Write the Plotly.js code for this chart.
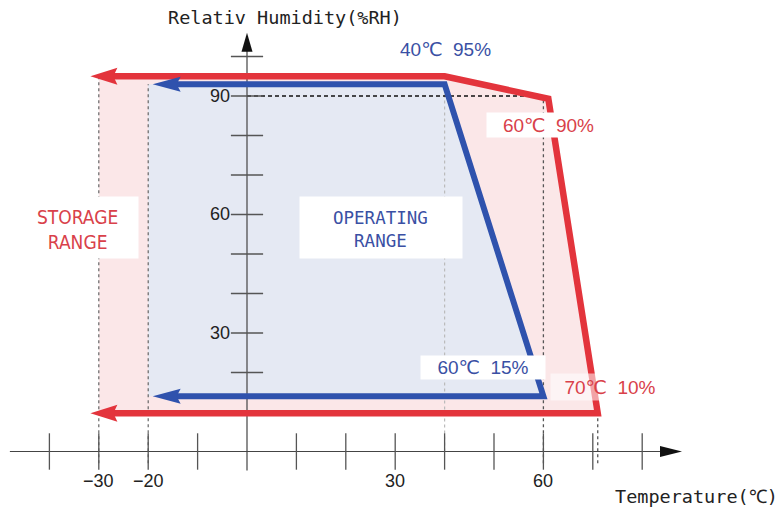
<!DOCTYPE html>
<html><head><meta charset="utf-8">
<script src="https://cdn.plot.ly/plotly-3.0.1.min.js"></script>
<style>html,body{margin:0;padding:0;background:#fff}#chart{width:778px;height:512px}</style>
</head><body><div id="chart"></div>
<script>
// ---------------- data ----------------
const storageTemp = [-30, 40, 61, 71, -30];
const storageRH   = [95, 95, 89.3, 9.7, 9.7];
const operatingTemp = [-20, 40, 60, -20];
const operatingRH   = [93, 93, 14, 14];
const storageArrowTip = -31.7;
const operatingArrowTip = -19.1;
const xTickVals = [-40, -30, -20, -10, 10, 20, 30, 40, 50, 60, 70, 80];
const yTickVals = [10, 20, 30, 40, 50, 60, 70, 80, 90, 100];
const xLabelVals = [-30, -20, 30, 60];
const xLabelText = ['\u221230', '\u221220', '30', '60'];
const yLabelVals = [30, 60, 90];
const yLabelText = ['30', '60', '90'];
const pointLabels = ['40℃  95%', '60℃  90%', '60℃  15%', '70℃  10%'];
const refRH = 90;

// ---------------- geometry helpers ----------------
const W = 778, H = 512;
const X0 = -50, X1 = 107.49, Y0 = -15.32, Y1 = 114.3;
const kx = (X1 - X0) / W, ky = (Y1 - Y0) / H;   // data units per pixel
const xAxisTip = 88.06, yAxisTip = 106, xAxisStart = -48, yAxisStart = -4.8;

const RED = '#e3343c', BLUE = '#2f52ad';
const RED_TXT = '#d9414a', BLUE_TXT = '#3a50a4';

function leftHead(tipX, y, len, half, notch) {
  const b = tipX + len * kx, n = tipX + (len - notch) * kx;
  return `M${tipX},${y} L${b},${y + half * ky} L${n},${y} L${b},${y - half * ky} Z`;
}
function rightHead(tipX, y, len, half) {
  const b = tipX - len * kx;
  return `M${tipX},${y} L${b},${y + half * ky} L${b},${y - half * ky} Z`;
}
function upHead(x, tipY, len, half) {
  const b = tipY - len * ky;
  return `M${x},${tipY} L${x + half * kx},${b} L${x - half * kx},${b} Z`;
}

// ---------------- traces ----------------
const traces = [];
traces.push({x: storageTemp, y: storageRH, mode: 'lines', fill: 'toself',
  fillcolor: '#fbe7e8', line: {width: 0}, hoverinfo: 'skip'});
traces.push({x: operatingTemp, y: operatingRH, mode: 'lines', fill: 'toself',
  fillcolor: '#e5e9f3', line: {width: 0}, hoverinfo: 'skip'});

const refBottom = -3;
traces.push({x: [storageTemp[0], storageTemp[0], null, operatingTemp[0], operatingTemp[0]],
  y: [refBottom, storageRH[0], null, refBottom, operatingRH[0]],
  mode: 'lines', line: {color: '#666', width: 1.2, dash: 'dot'}, hoverinfo: 'skip'});
traces.push({x: [operatingTemp[1], operatingTemp[1]], y: [0, operatingRH[1]],
  mode: 'lines', line: {color: '#bbb', width: 1.2, dash: 'dot'}, hoverinfo: 'skip'});
traces.push({x: [operatingTemp[2], operatingTemp[2], null, storageTemp[3], storageTemp[3]],
  y: [refBottom, storageRH[2], null, refBottom, storageRH[3]],
  mode: 'lines', line: {color: '#555', width: 1.3, dash: 'dot'}, hoverinfo: 'skip'});
traces.push({x: [0, operatingTemp[2]], y: [refRH, refRH],
  mode: 'lines', line: {color: '#111', width: 1.3, dash: '4px,3px'}, hoverinfo: 'skip'});

traces.push({x: [xAxisStart, xAxisTip - 18 * kx], y: [0, 0], mode: 'lines',
  line: {color: '#444', width: 1.2}, hoverinfo: 'skip'});
traces.push({x: [0, 0], y: [yAxisStart, yAxisTip - 17 * ky], mode: 'lines',
  line: {color: '#444', width: 1.2}, hoverinfo: 'skip'});
traces.push({x: xTickVals, y: xTickVals.map(() => 0), mode: 'markers',
  marker: {symbol: 'line-ns', size: 26, line: {color: '#555', width: 1.3}}, hoverinfo: 'skip'});
traces.push({x: yTickVals.map(() => 0), y: yTickVals, mode: 'markers',
  marker: {symbol: 'line-ew', size: 23, line: {color: '#555', width: 1.3}}, hoverinfo: 'skip'});

const sBack = storageArrowTip + 20 * kx, oBack = operatingArrowTip + 20 * kx;
traces.push({x: [sBack].concat(storageTemp.slice(1, 4), [sBack]), y: storageRH,
  mode: 'lines', line: {color: RED, width: 6.5}, hoverinfo: 'skip'});
traces.push({x: [oBack].concat(operatingTemp.slice(1, 3), [oBack]), y: operatingRH,
  mode: 'lines', line: {color: BLUE, width: 6}, hoverinfo: 'skip'});

// ---------------- shapes (arrow heads) ----------------
const shapes = [
  {type: 'path', xref: 'x', yref: 'y', layer: 'above', path: leftHead(storageArrowTip, storageRH[0], 27, 8.5, 4), fillcolor: RED, line: {width: 0}},
  {type: 'path', xref: 'x', yref: 'y', layer: 'above', path: leftHead(storageArrowTip, storageRH[4], 27, 8.5, 4), fillcolor: RED, line: {width: 0}},
  {type: 'path', xref: 'x', yref: 'y', layer: 'above', path: leftHead(operatingArrowTip, operatingRH[0], 28, 7.5, 4), fillcolor: BLUE, line: {width: 0}},
  {type: 'path', xref: 'x', yref: 'y', layer: 'above', path: leftHead(operatingArrowTip, operatingRH[3], 28, 7.5, 4), fillcolor: BLUE, line: {width: 0}},
  {type: 'path', xref: 'x', yref: 'y', layer: 'above', path: rightHead(xAxisTip, 0, 22, 5.5), fillcolor: '#111', line: {width: 0}},
  {type: 'path', xref: 'x', yref: 'y', layer: 'above', path: upHead(0, yAxisTip, 19, 5.5), fillcolor: '#111', line: {width: 0}}
];

// ---------------- annotations ----------------
const monoFont = 'DejaVu Sans Mono, monospace';
const sansFont = 'Liberation Sans, DejaVu Sans, sans-serif';
const narrowFont = 'Liberation Sans Narrow, DejaVu Sans Condensed, Liberation Sans, sans-serif';
const C = {xanchor: 'center', yanchor: 'middle', showarrow: false};
const ann = [];
ann.push(Object.assign({xref: 'paper', yref: 'paper', x: 284.5 / W, y: 1 - 17 / H, text: 'Relativ Humidity(%RH)',
  font: {family: monoFont, size: 18.5, color: '#222'}}, C));
ann.push(Object.assign({xref: 'paper', yref: 'paper', x: 696 / W, y: 1 - 496 / H, text: 'Temperature(℃)',
  font: {family: monoFont, size: 18.5, color: '#222'}}, C));
xLabelVals.forEach((v, i) => ann.push(Object.assign({x: v, y: 0, xref: 'x', yref: 'y', text: xLabelText[i],
  yshift: -30, font: {family: sansFont, size: 18, color: '#222'}}, C)));
yLabelVals.forEach((v, i) => ann.push(Object.assign({x: 0, y: v, xref: 'x', yref: 'y', text: yLabelText[i],
  font: {family: sansFont, size: 18, color: '#222'}}, C, {xanchor: 'right', xshift: -15})));

// region label boxes
ann.push(Object.assign({xref: 'paper', yref: 'paper', x: 85.5 / W, y: 1 - 227.5 / H, text: ' ',
  bgcolor: '#fff', width: 105, height: 61, borderpad: 0}, C));
ann.push(Object.assign({xref: 'paper', yref: 'paper', x: 77.5 / W, y: 1 - 229 / H, text: 'STORAGE<br>RANGE',
  font: {family: narrowFont, size: 19, color: RED_TXT}}, C));
ann.push(Object.assign({xref: 'paper', yref: 'paper', x: 381 / W, y: 1 - 227.5 / H, text: ' ',
  bgcolor: '#fff', width: 162, height: 61, borderpad: 0}, C));
ann.push(Object.assign({xref: 'paper', yref: 'paper', x: 380.5 / W, y: 1 - 229 / H, text: 'OPERATING<br>RANGE',
  font: {family: monoFont, size: 17.5, color: BLUE_TXT}}, C));

// point labels
const labelFont = (c) => ({family: sansFont, size: 19, color: c});
ann.push(Object.assign({x: storageTemp[1], y: storageRH[1], xref: 'x', yref: 'y', text: pointLabels[0],
  xshift: 1, yshift: 27, font: labelFont(BLUE_TXT)}, C));
ann.push(Object.assign({x: storageTemp[2], y: storageRH[2], xref: 'x', yref: 'y', text: pointLabels[1],
  xshift: 0, yshift: -26, font: labelFont(RED_TXT), bgcolor: '#fff', width: 123, height: 24, borderpad: 0}, C));
ann.push(Object.assign({x: operatingTemp[2], y: operatingRH[2], xref: 'x', yref: 'y', text: pointLabels[2],
  xshift: -60, yshift: 29, font: labelFont(BLUE_TXT), bgcolor: '#fff', width: 124, height: 23, borderpad: 0}, C));
ann.push(Object.assign({x: storageTemp[3], y: storageRH[3], xref: 'x', yref: 'y', text: pointLabels[3],
  xshift: 12, yshift: 26, font: labelFont(RED_TXT), bgcolor: 'rgba(255,255,255,0.55)', width: 118, height: 26, borderpad: 0}, C));

const layout = {
  width: W, height: H, margin: {l: 0, r: 0, t: 0, b: 0},
  paper_bgcolor: '#fff', plot_bgcolor: '#fff', showlegend: false,
  xaxis: {range: [X0, X1], visible: false, fixedrange: true},
  yaxis: {range: [Y0, Y1], visible: false, fixedrange: true},
  shapes: shapes, annotations: ann
};
Plotly.newPlot('chart', traces, layout, {displayModeBar: false, staticPlot: true});
</script>
</body></html>
